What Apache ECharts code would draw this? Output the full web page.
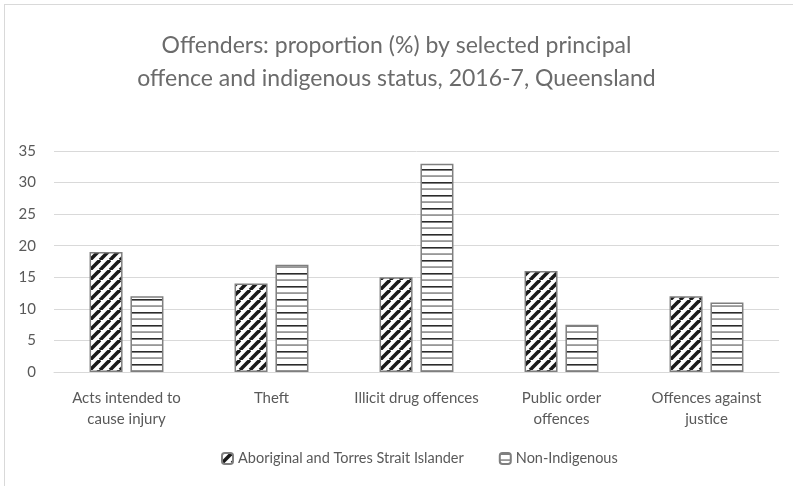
<!DOCTYPE html>
<html><head><meta charset="utf-8">
<script src="https://cdn.jsdelivr.net/npm/echarts@6/dist/echarts.min.js"></script>
<style>
html,body{margin:0;padding:0;background:#fff;}
#frame{position:absolute;left:4px;top:4px;width:900px;height:600px;border:1px solid #d9d9d9;box-sizing:border-box;}
#c{position:absolute;left:0;top:0;width:793px;height:486px;}
</style></head>
<body><div id="frame"></div><div id="c"></div>
<script>
var categories = ['Acts intended to\ncause injury', 'Theft', 'Illicit drug offences', 'Public order\noffences', 'Offences against\njustice'];
var seriesNames = ['Aboriginal and Torres Strait Islander', 'Non-Indigenous'];
var aboriginal = [19, 14, 15, 16, 12];
var nonIndigenous = [12, 17, 33, 7.5, 11];
var yTicks = [0, 5, 10, 15, 20, 25, 30, 35];

function diagPattern(){
  var s = 10, c = document.createElement('canvas');
  c.width = s; c.height = s;
  var g = c.getContext('2d');
  g.fillStyle = '#fff'; g.fillRect(0,0,s,s);
  g.strokeStyle = '#1a1a1a'; g.lineWidth = 3.6;
  for (var k = -1; k <= 1; k++) {
    g.beginPath(); g.moveTo(k*s, s); g.lineTo(k*s + s, 0); g.stroke();
  }
  return c;
}
function horizPattern(){
  var w = 4, h = 13, c = document.createElement('canvas');
  c.width = w; c.height = h;
  var g = c.getContext('2d');
  g.fillStyle = '#fff'; g.fillRect(0,0,w,h);
  g.fillStyle = '#2b2b2b'; g.fillRect(0,0,w,1.6);
  g.fillStyle = '#555'; g.fillRect(0,6.5,w,1.1);
  return c;
}

var chart = echarts.init(document.getElementById('c'), null, {renderer:'canvas'});
var font = "Lato, 'Open Sans', 'Liberation Sans', sans-serif";
chart.setOption({
  animation:false,
  textStyle:{fontFamily:font},
  title:{
    text:'Offenders: proportion (%) by selected principal\noffence and indigenous status, 2016-7, Queensland',
    left:'center', top:24,
    textStyle:{color:'#6b6b6b', fontSize:23, fontWeight:'normal', fontFamily:font, lineHeight:33}
  },
  legend:{
    bottom:15, left:216, itemWidth:11, itemHeight:11, itemGap:35,
    textStyle:{color:'#595959', fontSize:14.5, fontFamily:font},
    data:seriesNames
  },
  grid:{left:54, right:14, top:151, bottom:114, containLabel:false},
  xAxis:{
    type:'category', data:categories,
    axisLine:{lineStyle:{color:'#d9d9d9', width:1}},
    axisTick:{show:false},
    axisLabel:{color:'#595959', fontSize:15, fontFamily:font, lineHeight:21, margin:16, interval:0}
  },
  yAxis:{
    type:'value', min:yTicks[0], max:yTicks[yTicks.length-1], interval:5,
    axisLine:{show:false}, axisTick:{show:false},
    axisLabel:{color:'#595959', fontSize:15, fontFamily:font, margin:18},
    splitLine:{lineStyle:{color:'#d9d9d9', width:1}}
  },
  series:[
    {name:seriesNames[0], type:'bar', data:aboriginal, barWidth:33, barGap:'24%',
     itemStyle:{color:{image:diagPattern(), repeat:'repeat'}, borderColor:'#7f7f7f', borderWidth:1.5}},
    {name:seriesNames[1], type:'bar', data:nonIndigenous, barWidth:33,
     itemStyle:{color:{image:horizPattern(), repeat:'repeat'}, borderColor:'#7f7f7f', borderWidth:1.5}}
  ]
});
</script></body></html>
